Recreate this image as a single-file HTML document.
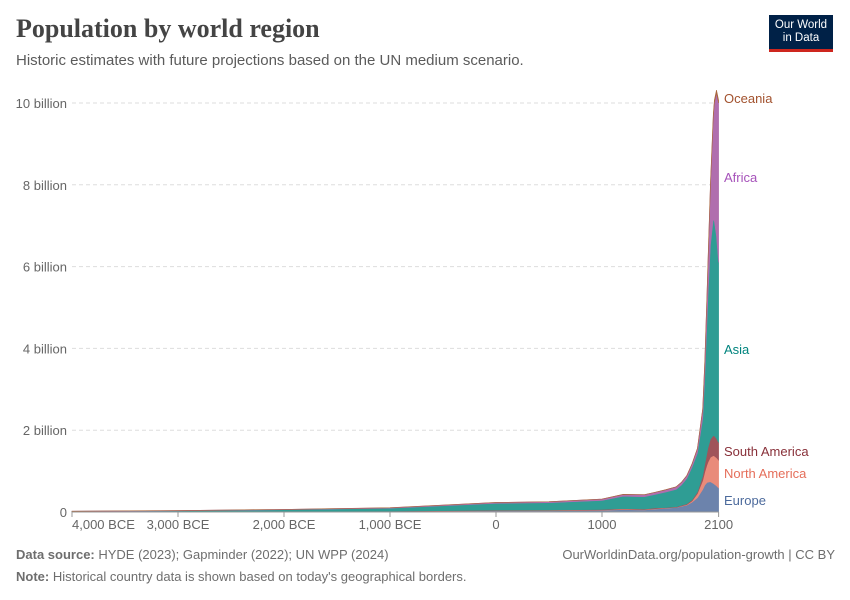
<!DOCTYPE html>
<html><head><meta charset="utf-8"><style>
body{margin:0;background:#fff;font-family:"Liberation Sans",sans-serif;}
#wrap{position:relative;width:850px;height:600px;overflow:hidden;}
</style></head><body>
<div id="wrap">
<div style="position:absolute;left:16px;top:14px;font-family:'Liberation Serif',serif;font-size:26px;font-weight:bold;color:#444;">Population by world region</div>
<div style="position:absolute;left:16px;top:52px;font-size:15px;color:#5b5b5b;">Historic estimates with future projections based on the UN medium scenario.</div>
<div style="position:absolute;left:769px;top:15px;width:64px;height:37px;background:#002147;color:#fff;font-size:11.5px;line-height:13px;text-align:center;padding-top:4px;box-sizing:border-box;border-bottom:3px solid #ce261e;">Our World<br>in Data</div>
<svg id="chart" width="850" height="600" style="position:absolute;left:0;top:0"></svg>
<div style="position:absolute;left:16px;top:547px;font-size:13px;color:#6e6e6e;"><b>Data source:</b> HYDE (2023); Gapminder (2022); UN WPP (2024)</div>
<div style="position:absolute;right:15px;top:547px;font-size:13px;color:#6e6e6e;">OurWorldinData.org/population-growth | CC BY</div>
<div style="position:absolute;left:16px;top:569px;font-size:13px;color:#6e6e6e;"><b>Note:</b> Historical country data is shown based on today's geographical borders.</div>
</div>
<script>
const years=[-4000,-3000,-2000,-1000,0,500,1000,1200,1400,1500,1600,1700,1750,1800,1850,1900,1950,1970,1990,2000,2023,2050,2060,2080,2100];
const europe=[0.005,0.007,0.01,0.015,0.03,0.03,0.04,0.06,0.05,0.07,0.09,0.11,0.14,0.17,0.24,0.35,0.55,0.66,0.72,0.73,0.74,0.70,0.68,0.64,0.59];
const northAmerica=[0.001,0.001,0.002,0.003,0.005,0.007,0.01,0.01,0.008,0.01,0.008,0.005,0.007,0.01,0.03,0.1,0.22,0.32,0.43,0.49,0.6,0.68,0.69,0.69,0.68];
const southAmerica=[0.001,0.002,0.003,0.004,0.008,0.01,0.012,0.015,0.015,0.02,0.01,0.01,0.015,0.02,0.03,0.04,0.11,0.19,0.29,0.35,0.44,0.49,0.49,0.47,0.43];
const asia=[0.01,0.02,0.04,0.07,0.17,0.18,0.22,0.3,0.3,0.33,0.38,0.43,0.5,0.62,0.8,0.95,1.4,2.15,3.2,3.74,4.75,5.3,5.25,4.95,4.4];
const africa=[0.003,0.005,0.008,0.012,0.02,0.025,0.035,0.045,0.05,0.05,0.055,0.06,0.065,0.07,0.08,0.11,0.23,0.36,0.63,0.81,1.46,2.5,2.9,3.5,3.9];
const oceania=[0.0003,0.0004,0.0005,0.0007,0.001,0.001,0.001,0.0015,0.002,0.002,0.002,0.002,0.002,0.002,0.002,0.006,0.013,0.02,0.027,0.031,0.045,0.058,0.06,0.065,0.069];
const seriesNames=["Europe","North America","South America","Asia","Africa","Oceania"];
const yTicks=[0,2,4,6,8,10];
const yTickLabels=["0","2 billion","4 billion","6 billion","8 billion","10 billion"];
const xTicks=[-4000,-3000,-2000,-1000,0,1000,2100];
const xTickLabels=["4,000 BCE","3,000 BCE","2,000 BCE","1,000 BCE","0","1000","2100"];

const series=[europe,northAmerica,southAmerica,asia,africa,oceania];
const fills=["#6c83ac","#e98b7a","#a0545a","#2f9d94","#b06eae","#a9663c"];
const labelColors=["#4c6a9c","#e56e5a","#883039","#00847e","#a652ba","#a2522e"];
const NS="http://www.w3.org/2000/svg";
const svg=document.getElementById('chart');
const x0=72,x1=718.6,y0=512,y1=103;
const xs=v=>x0+(v-(-4000))/(2100-(-4000))*(x1-x0);
const ys=v=>y0-v/10*(y0-y1);
function mk(t,a){const e=document.createElementNS(NS,t);for(const k in a)e.setAttribute(k,a[k]);svg.appendChild(e);return e;}
yTicks.forEach((t,i)=>{
  if(t>0){const g=mk('line',{x1:x0,x2:x1,y1:ys(t),y2:ys(t),stroke:'#ddd','stroke-dasharray':'4,3'});
  
  }
  const l=mk('text',{x:67,y:ys(t)+5,'text-anchor':'end','font-size':13,fill:'#666','font-family':'Liberation Sans,sans-serif'});
  l.textContent=yTickLabels[i];
  
  
});
let base=years.map(()=>0);
series.forEach((s,si)=>{
  const top=base.map((b,i)=>b+s[i]);
  let d='M'+years.map((yr,i)=>xs(yr)+','+ys(top[i])).join('L');
  for(let i=years.length-1;i>=0;i--)d+='L'+xs(years[i])+','+ys(base[i]);
  d+='Z';
  const p=mk('path',{d:d,fill:fills[si],stroke:fills[si],'stroke-width':0.6});
  
  
  base=top;
});
const labelY=[500,473,451,349,177,98];
seriesNames.forEach((n,i)=>{
  const t=mk('text',{x:724,y:labelY[i]+5,'font-size':13,fill:labelColors[i],'font-family':'Liberation Sans,sans-serif'});
  t.textContent=n;
  
  
});
const ax=mk('line',{x1:x0,x2:x1,y1:y0,y2:y0,stroke:'#999'});


xTicks.forEach((t,i)=>{
  const tk=mk('line',{x1:xs(t),x2:xs(t),y1:y0,y2:y0+5,stroke:'#999'});
  
  
  const anchor=i===0?'start':'middle';
  const l=mk('text',{x:xs(t),y:529,'text-anchor':anchor,'font-size':13,fill:'#666','font-family':'Liberation Sans,sans-serif'});
  l.textContent=xTickLabels[i];
  
  
});
</script>
</body></html>
